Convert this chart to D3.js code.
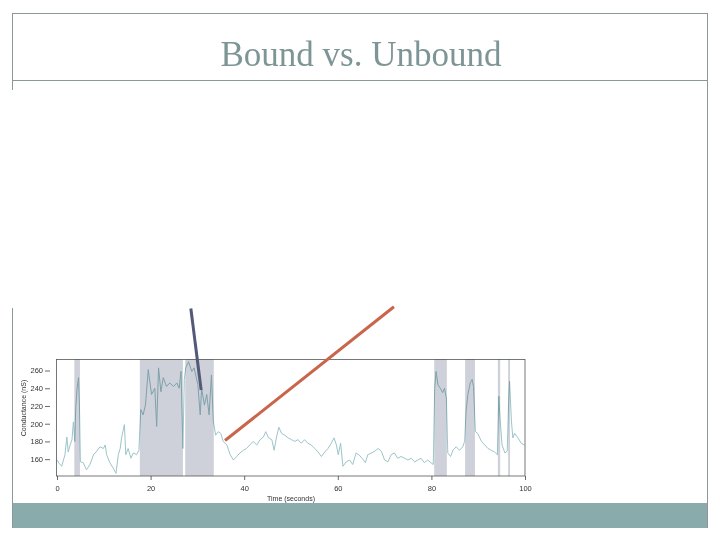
<!DOCTYPE html>
<html><head><meta charset="utf-8">
<script src="https://cdn.jsdelivr.net/npm/d3@7"></script>
<style>html,body{margin:0;padding:0;background:#fff;}svg{display:block;}</style>
</head><body>
<script>
const title = "Bound vs. Unbound";
const xLabel = "Time (seconds)";
const yLabel = "Conductance (nS)";
const xTicks = [0, 20, 40, 60, 80, 100];
const yTicks = [160, 180, 200, 220, 240, 260];
const boundStart = [3.7, 17.7, 27.4, 80.6, 87.2, 94.2, 96.4];
const boundEnd   = [4.9, 26.9, 33.5, 83.3, 89.3, 94.7, 96.8];
const timeSec = [0,0.5,1,1.7,2.1,2.4,2.8,3.2,3.5,3.8,4.0,4.3,4.6,4.8,5.0,5.6,6.3,7.05,7.8,8.5,9.2,9.9,10.3,10.6,11.3,12,12.6,13.1,13.5,13.8,14.4,14.7,15.2,15.8,16.3,17,17.5,17.9,18.4,18.9,19.5,20.2,20.9,21.3,21.7,22.2,22.7,23.4,24.1,24.9,25.6,26.1,26.5,26.9,27.2,27.5,28.1,28.8,29.3,30.1,30.6,30.9,31.5,32,32.5,33,33.4,33.9,34.5,35,35.5,36.3,37,37.7,38.4,39.1,39.8,40.5,41.2,41.9,42.7,43.4,44.1,44.6,45.2,45.9,46.4,46.9,47.4,48,48.7,49.4,50.1,50.8,51.5,52.2,52.9,53.6,54.3,55.1,55.8,56.5,57.2,57.9,58.6,59.2,59.7,60.1,60.6,61.1,61.8,62.5,63.2,63.9,64.5,65.2,65.9,66.4,67.2,67.9,68.6,69.3,70,70.7,71.4,72.1,72.8,73.5,74.3,75,75.7,76.4,77.1,77.8,78.5,79.2,79.9,80.4,80.7,81,81.4,81.9,82.4,82.8,83.2,83.5,84.1,84.6,85.3,86,86.7,87.1,87.4,87.8,88.3,88.7,89.0,89.4,89.9,90.7,91.4,92.1,92.8,93.5,94.1,94.4,94.7,95.1,95.7,96.2,96.5,96.7,97.1,97.4,97.8,98.5,99.2,99.9];
const conductance = [159,155,152,165,185,168,176,182,202,180,218,240,252,221,157,156,148,154,165,169,174,172,176,165,156,150,144,165,172,184,199,165,172,161,167,165,170,216,210,221,261,233,240,197,263,236,252,242,246,242,246,240,259,172,250,263,270,259,263,244,210,240,221,233,210,255,203,187,191,189,180,176,165,159,163,167,170,172,176,180,176,182,185,191,184,182,170,185,196,189,187,184,182,180,182,178,182,178,176,172,168,163,168,172,178,184,176,165,178,152,157,159,154,167,165,161,156,165,167,169,172,169,159,157,165,167,161,163,161,159,161,157,159,161,156,159,156,154,240,259,244,240,235,240,229,167,163,170,174,170,174,180,214,233,246,250,242,191,189,180,176,172,170,168,165,231,203,176,167,169,225,248,203,184,189,184,178,176];
// annotation pointers: [t0, v0, t1, v1] in data units
const pointerDark = [28.6, 330, 30.8, 238];
const pointerOrange = [35.9, 181, 72.0, 332];

const W = 720, H = 540;
const svg = d3.select("body").append("svg").attr("width", W).attr("height", H);
const frame = "#8c9797";

// slide frame
svg.append("rect").attr("x", 12).attr("y", 503).attr("width", 696).attr("height", 25).attr("fill", "#8aabab");
svg.append("line").attr("x1", 12).attr("x2", 707.5).attr("y1", 13.5).attr("y2", 13.5).attr("stroke", frame);
svg.append("line").attr("x1", 707.5).attr("x2", 707.5).attr("y1", 13).attr("y2", 528).attr("stroke", frame);
svg.append("line").attr("x1", 12).attr("x2", 707.5).attr("y1", 80.5).attr("y2", 80.5).attr("stroke", frame);
svg.append("line").attr("x1", 12.5).attr("x2", 12.5).attr("y1", 13).attr("y2", 90).attr("stroke", frame);
svg.append("line").attr("x1", 12.5).attr("x2", 12.5).attr("y1", 308).attr("y2", 528).attr("stroke", frame);

svg.append("text").attr("x", 361).attr("y", 66).attr("text-anchor", "middle")
  .attr("font-family", "Liberation Serif, Times New Roman, serif").attr("font-size", 35)
  .attr("fill", "#7e9596").text(title);

// chart
const x = d3.scaleLinear().domain([0, 100]).range([57, 525]);
const y = d3.scaleLinear().domain([141, 273]).range([476, 359]);
const g = svg.append("g");

const pts = timeSec.map((t, i) => [t, conductance[i]]);
g.append("path").datum(pts)
  .attr("d", d3.line().x(d => x(d[0])).y(d => y(d[1])))
  .attr("fill", "none").attr("stroke", "#9cc5c9").attr("stroke-width", 1);

g.selectAll("rect.bound").data(boundStart.map((s, i) => [s, boundEnd[i]])).join("rect")
  .attr("class", "bound")
  .attr("x", d => x(d[0])).attr("width", d => x(d[1]) - x(d[0]))
  .attr("y", y(273)).attr("height", y(141) - y(273))
  .attr("fill", "#ced1d9").style("mix-blend-mode", "multiply");

// box
g.append("rect").attr("x", 56.5).attr("y", 359.5).attr("width", 525 - 56.5).attr("height", 476 - 359.5)
  .attr("fill", "none").attr("stroke", "#555").attr("stroke-width", 0.8);

const font = "Liberation Sans, Arial, sans-serif";
// x axis
const xa = g.append("g").attr("transform", "translate(0,476)")
  .call(d3.axisBottom(x).tickValues(xTicks).tickSize(4).tickPadding(6).tickFormat(d3.format("d")));
xa.select(".domain").remove();
xa.selectAll("line").attr("stroke", "#444").attr("stroke-width", 0.8);
xa.selectAll("text").attr("font-family", font).attr("font-size", 7.5).attr("fill", "#333");

// y axis
const ya = g.append("g").attr("transform", "translate(50,0)")
  .call(d3.axisLeft(y).tickValues(yTicks).tickSize(5).tickPadding(2).tickFormat(d3.format("d")));
ya.select(".domain").remove();
ya.selectAll("line").attr("stroke", "#444").attr("stroke-width", 0.8);
ya.selectAll("text").attr("font-family", font).attr("font-size", 7.5).attr("fill", "#333");

g.append("text").attr("x", 291).attr("y", 501).attr("text-anchor", "middle")
  .attr("font-family", font).attr("font-size", 7).attr("fill", "#333").text(xLabel);
g.append("text").attr("transform", "translate(26,408) rotate(-90)").attr("text-anchor", "middle")
  .attr("font-family", font).attr("font-size", 7).attr("fill", "#333").text(yLabel);

// pointers
function pointer(p, color) {
  g.append("line").attr("x1", x(p[0])).attr("y1", y(p[1])).attr("x2", x(p[2])).attr("y2", y(p[3]))
    .attr("stroke", color).attr("stroke-width", 3);
}
pointer(pointerDark, "#525a77");
pointer(pointerOrange, "#c8654a");
</script>
</body></html>
